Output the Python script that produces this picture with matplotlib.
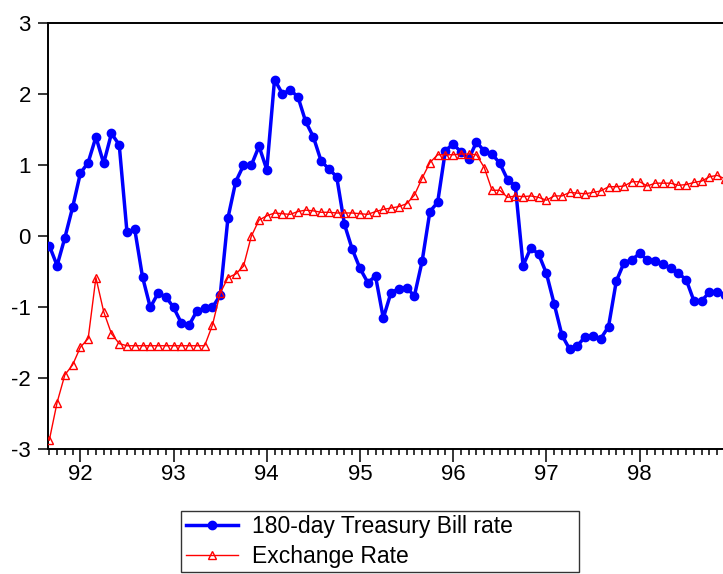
import matplotlib
matplotlib.use("Agg")
import matplotlib.pyplot as plt
from matplotlib.ticker import FixedLocator

plt.rcParams['font.family'] = ['Liberation Sans', 'DejaVu Sans']
plt.rcParams['axes.unicode_minus'] = False

# Monthly observations, Sep 1991 .. Dec 1998 (index 0 = Sep 1991)
tbill = [-0.14, -0.42, -0.03, 0.40, 0.88, 1.03, 1.39, 1.02, 1.44, 1.28,
         0.05, 0.09, -0.58, -1.01, -0.81, -0.86, -1.01, -1.23, -1.26, -1.06,
         -1.02, -1.01, -0.84, 0.25, 0.76, 0.99, 0.99, 1.26, 0.93, 2.20,
         2.00, 2.05, 1.96, 1.61, 1.39, 1.05, 0.94, 0.83, 0.16, -0.19,
         -0.46, -0.66, -0.57, -1.16, -0.80, -0.75, -0.73, -0.85, -0.36, 0.34,
         0.47, 1.20, 1.29, 1.18, 1.08, 1.32, 1.19, 1.15, 1.02, 0.79,
         0.70, -0.42, -0.17, -0.26, -0.53, -0.96, -1.40, -1.60, -1.55, -1.42,
         -1.41, -1.45, -1.28, -0.64, -0.38, -0.34, -0.25, -0.34, -0.35, -0.40,
         -0.46, -0.53, -0.62, -0.92, -0.92, -0.79, -0.79, -0.83]

exrate = [-2.88, -2.35, -1.96, -1.82, -1.57, -1.45, -0.59, -1.07, -1.38, -1.52,
          -1.55, -1.55, -1.55, -1.55, -1.55, -1.55, -1.55, -1.55, -1.55, -1.55,
          -1.55, -1.26, -0.81, -0.59, -0.54, -0.43, -0.01, 0.22, 0.28, 0.32,
          0.31, 0.30, 0.34, 0.36, 0.35, 0.33, 0.33, 0.32, 0.32, 0.32,
          0.31, 0.30, 0.34, 0.37, 0.39, 0.41, 0.45, 0.57, 0.81, 1.03,
          1.14, 1.14, 1.14, 1.15, 1.15, 1.14, 0.96, 0.64, 0.64, 0.54,
          0.56, 0.55, 0.56, 0.54, 0.50, 0.56, 0.56, 0.61, 0.60, 0.59,
          0.61, 0.63, 0.69, 0.69, 0.70, 0.76, 0.76, 0.70, 0.74, 0.74,
          0.74, 0.71, 0.72, 0.75, 0.77, 0.83, 0.85, 0.80]

year_labels = ['92', '93', '94', '95', '96', '97', '98']
year_pos = [4, 16, 28, 40, 52, 64, 76]          # January of each year
y_ticks = [-3, -2, -1, 0, 1, 2, 3]
series_names = ['180-day Treasury Bill rate', 'Exchange Rate']

W, H = 723, 574
fig = plt.figure(figsize=(W / 100, H / 100), dpi=100)
left_px, right_px, top_px, bot_px = 48.3, 732.8, 22.7, 448.7
ax = fig.add_axes([left_px / W, 1 - bot_px / H,
                   (right_px - left_px) / W, (bot_px - top_px) / H])

x = list(range(len(tbill)))
ax.plot(x, tbill, color='#0000ff', lw=2.5, marker='o', ms=6.0,
        mec='#0000ff', mfc='#0000ff', label=series_names[0], zorder=3)
ax.plot(x, exrate, color='#ff0000', lw=1.0, marker='^', ms=5.5,
        mfc='none', mec='#ff0000', mew=1.0, label=series_names[1], zorder=4)

ax.set_xlim(-0.13, 88)
ax.set_ylim(-3, 3)

ax.xaxis.set_major_locator(FixedLocator(year_pos))
ax.set_xticklabels(year_labels)
ax.xaxis.set_minor_locator(FixedLocator([i for i in range(0, 88) if i not in year_pos]))
ax.set_yticks(y_ticks)
ax.set_yticklabels([str(v) for v in y_ticks])

ax.tick_params(axis='x', which='major', direction='out', length=9, width=1.1,
               labelsize=16, pad=2, colors='black')
ax.tick_params(axis='x', which='minor', direction='out', length=4.5, width=1.1)
ax.tick_params(axis='y', which='major', direction='out', length=7.5, width=1.1,
               labelsize=16, pad=5)

for s in ['left', 'top', 'bottom', 'right']:
    ax.spines[s].set_linewidth(1.4)
    ax.spines[s].set_color('black')

leg_l, leg_t, leg_r, leg_b = 181, 510.7, 579.3, 572.5
leg = ax.legend(loc='upper left',
                bbox_to_anchor=(leg_l / W, 1 - leg_b / H, (leg_r - leg_l) / W, (leg_b - leg_t) / H),
                bbox_transform=fig.transFigure, mode='expand',
                fontsize=16.5, frameon=True, fancybox=False, borderpad=0.2,
                handlelength=2.3, handletextpad=0.6, labelspacing=0.28,
                borderaxespad=0.0)
leg.get_frame().set_edgecolor('black')
leg.get_frame().set_linewidth(1.0)

fig.savefig('out.png', dpi=100)
